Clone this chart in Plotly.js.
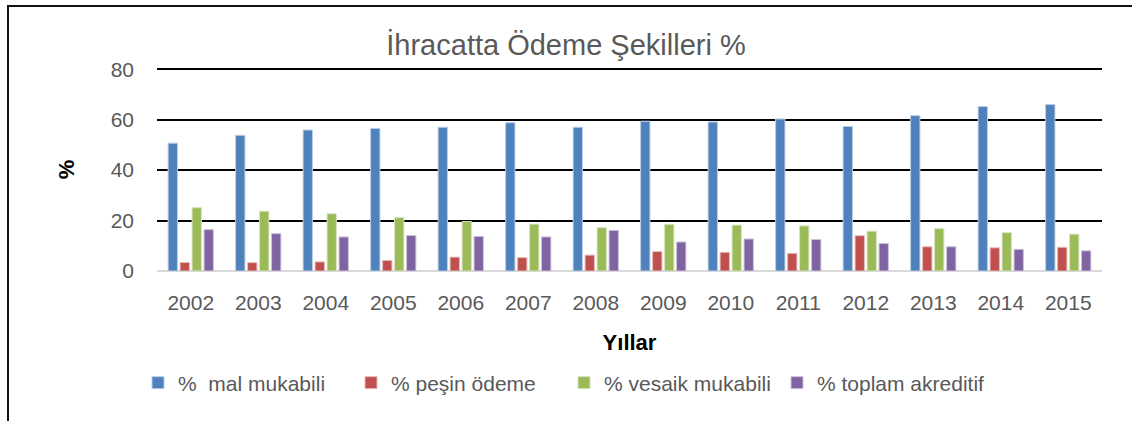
<!DOCTYPE html>
<html>
<head>
<meta charset="utf-8">
<script src="https://cdn.plot.ly/plotly-3.0.1.min.js"></script>
<style>
  html, body { margin: 0; padding: 0; background: #fff; }
  #wrap { position: relative; width: 1132px; height: 421px; overflow: hidden; }
  #chart { position: absolute; left: 0; top: 0; width: 1132px; height: 421px; }
  #frame { position: absolute; left: 7px; top: 5px; width: 1200px; height: 500px;
           border-top: 2px solid #111; border-left: 2px solid #111; pointer-events: none; }
</style>
</head>
<body>
<div id="wrap">
  <div id="chart"></div>
  <div id="frame"></div>
</div>
<script>
const years = ['2002','2003','2004','2005','2006','2007','2008','2009','2010','2011','2012','2013','2014','2015'];
const malMukabili     = [50.7, 53.8, 55.9, 56.5, 57.0, 58.8, 57.0, 59.4, 59.1, 60.3, 57.3, 61.6, 65.2, 66.0];
const pesinOdeme      = [3.4, 3.3, 3.6, 4.2, 5.5, 5.3, 6.3, 7.7, 7.4, 7.0, 14.0, 9.6, 9.2, 9.4];
const vesaikMukabili  = [25.1, 23.7, 22.7, 21.2, 19.6, 18.6, 17.2, 18.5, 18.2, 17.9, 15.8, 16.8, 15.2, 14.6];
const toplamAkreditif = [16.4, 14.8, 13.5, 14.1, 13.7, 13.5, 16.1, 11.5, 12.7, 12.5, 10.9, 9.6, 8.6, 8.0];
const seriesNames = ['%  mal mukabili', '% peşin ödeme', '% vesaik mukabili', '% toplam akreditif'];
const yTicks = [0, 20, 40, 60, 80];

const colors = ['#4F81BD', '#C0504D', '#9BBB59', '#8064A2'];
const edges  = ['#B9CDE5', '#E6B9B8', '#D7E4BD', '#CCC1DA'];
const values = [malMukabili, pesinOdeme, vesaikMukabili, toplamAkreditif];

const FONT = '"Liberation Sans", Arial, sans-serif';
const traces = values.map((v, i) => ({
  type: 'bar',
  name: seriesNames[i],
  x: years,
  y: v,
  marker: { color: colors[i], line: { color: edges[i], width: 1 } },
  hoverinfo: 'x+y+name'
}));

const layout = {
  width: 1132, height: 421,
  paper_bgcolor: 'rgba(0,0,0,0)', plot_bgcolor: 'rgba(0,0,0,0)',
  margin: { l: 157, r: 30, t: 68, b: 150, pad: 0 },
  font: { family: FONT, size: 21, color: '#595959' },
  title: {
    text: 'İhracatta Ödeme Şekilleri %',
    font: { family: FONT, size: 29, color: '#595959' },
    x: 0.5, xref: 'container', xanchor: 'center',
    y: 1 - 45 / 421, yref: 'container', yanchor: 'middle'
  },
  barmode: 'group',
  bargap: 0.29,
  bargroupgap: 0.22,
  xaxis: {
    type: 'category',
    showgrid: false,
    showline: false,
    ticks: '',
    ticklabelstandoff: 17,
    tickfont: { family: FONT, size: 21, color: '#595959' },
    title: { text: 'Yıllar', font: { family: FONT, size: 22, color: '#000', weight: 'bold' }, standoff: 21 },
    automargin: false
  },
  yaxis: {
    range: [0, 80.5],
    tickvals: yTicks,
    ticktext: yTicks.map(String),
    showgrid: true,
    gridcolor: '#000',
    gridwidth: 2,
    zeroline: true,
    zerolinecolor: '#D9D9D9',
    zerolinewidth: 2,
    showline: false,
    ticks: '',
    ticklabelstandoff: 22,
    tickfont: { family: FONT, size: 21, color: '#595959' },
    title: { text: '%', font: { family: FONT, size: 22, color: '#000', weight: 'bold' }, standoff: 29 },
    automargin: false
  },
  showlegend: true,
  legend: {
    orientation: 'h',
    x: 138 / 1132, xref: 'container', xanchor: 'left',
    y: 1 - 383 / 421, yref: 'container', yanchor: 'middle',
    font: { family: FONT, size: 21, color: '#595959' },
    entrywidth: 168, entrywidthmode: 'pixels',
    itemclick: false, itemdoubleclick: false
  }
};

Plotly.newPlot('chart', traces, layout, { displayModeBar: false, staticPlot: true });
</script>
</body>
</html>
